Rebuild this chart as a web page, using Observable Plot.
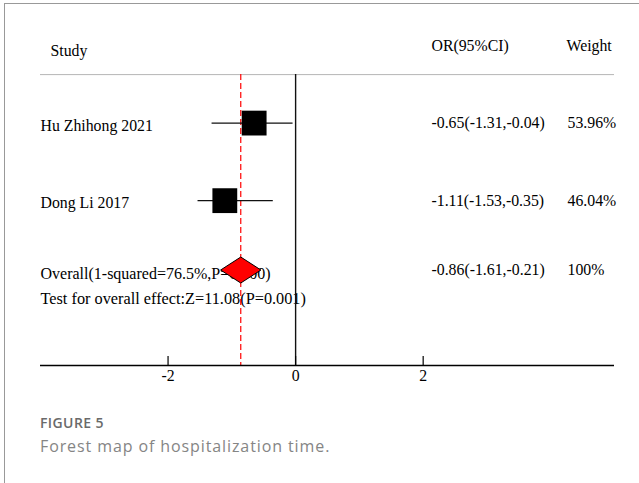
<!DOCTYPE html>
<html>
<head>
<meta charset="utf-8">
<script src="https://cdn.jsdelivr.net/npm/d3@7"></script>
<script src="https://cdn.jsdelivr.net/npm/@observablehq/plot@0.6"></script>
<style>
  html, body { margin: 0; padding: 0; background: #fff; }
  #page { position: relative; width: 639px; height: 483px; overflow: hidden; }
  #box { position: absolute; left: 4px; top: 3px; width: 700px; height: 600px;
         border-left: 1px solid #999; border-top: 1px solid #999; }
  #chart { position: absolute; left: 0; top: 0; }
  .fig-num { position: absolute; left: 40px; top: 416px; font-family: "Open Sans", sans-serif;
             font-weight: 600; font-size: 14px; line-height: 1; letter-spacing: 0.4px; color: #6a6a6a; }
  .fig-cap { position: absolute; left: 40px; top: 438px; font-family: "Open Sans", sans-serif;
             font-weight: 400; font-size: 16px; line-height: 1; letter-spacing: 0.9px; color: #858585; }
</style>
</head>
<body>
<div id="page">
  <div id="box"></div>
  <div id="chart"></div>
  <div class="fig-num">FIGURE 5</div>
  <div class="fig-cap">Forest map of hospitalization time.</div>
</div>
<script>
// Study-level results
const studies = ["Hu Zhihong 2021", "Dong Li 2017"];
const estimates = [-0.65, -1.11];
const lower = [-1.31, -1.53];
const upper = [-0.04, -0.35];
const weights = ["53.96%", "46.04%"];

// Pooled result
const overallEstimate = -0.86;
const overallLower = -1.61;
const overallUpper = -0.21;
const overallWeight = "100%";
const overallLabel = "Overall(1-squared=76.5%,P=0.000)";
const effectLabel = "Test for overall effect:Z=11.08(P=0.001)";

// Column headers and axis ticks
const headers = ["Study", "OR(95%CI)", "Weight"];
const xTicks = [-2, 0, 2];

// Row layout (vertical slots of the table)
const ROW = { header: 0, rule: 0.35, studies: [1, 2.04], overall: 2.97, effect: 3.32, axis: 4.25 };

const fmt = v => v.toFixed(2);
const ciText = (e, lo, hi) => `${fmt(e)}(${fmt(lo)},${fmt(hi)})`;

const rows = studies.map((s, i) => ({
  study: s, est: estimates[i], lo: lower[i], hi: upper[i],
  weight: weights[i], row: ROW.studies[i]
}));
const pooled = [{
  label: overallLabel, est: overallEstimate, lo: overallLower, hi: overallUpper,
  weight: overallWeight, row: ROW.overall
}];

// Wide diamond for the pooled estimate
const wideDiamond = {
  draw(context, size) {
    const r = Math.sqrt(size / Math.PI);
    const w = r * 1.55, h = r;
    context.moveTo(-w, 0);
    context.lineTo(0, -h);
    context.lineTo(w, 0);
    context.lineTo(0, h);
    context.closePath();
  }
};

const ORX = 391, WX = 527; // column offsets from the left edge of the table
const FS = 15.8;

const chart = Plot.plot({
  width: 639,
  height: 395,
  marginLeft: 40,
  marginRight: 25,
  marginTop: 0,
  marginBottom: 30,
  x: { domain: [-4, 5], axis: null },
  y: { domain: [0, ROW.axis], range: [48, 365], axis: null },
  style: { fontFamily: "'Liberation Serif', 'Times New Roman', serif", fontSize: FS + "px", color: "#000", background: "transparent" },
  marks: [
    // header rule
    Plot.ruleY([ROW.rule], { y: d => d, stroke: "#b5b5b5", strokeWidth: 1 }),
    // headers
    Plot.text([headers[0]], { text: d => d, y: () => ROW.header, frameAnchor: "left", dx: 10, dy: 2, textAnchor: "start", fontSize: FS }),
    Plot.text([headers[1]], { text: d => d, y: () => ROW.header, frameAnchor: "left", dx: ORX, dy: -3, textAnchor: "start", fontSize: FS }),
    Plot.text([headers[2]], { text: d => d, y: () => ROW.header, frameAnchor: "left", dx: WX - 1, dy: -3, textAnchor: "start", fontSize: FS }),
    // left column labels
    Plot.text(rows, { text: "study", y: "row", frameAnchor: "left", textAnchor: "start", dy: 2.5, fontSize: FS }),
    Plot.text(pooled, { text: "label", y: "row", frameAnchor: "left", textAnchor: "start", dy: 3.5, fontSize: 16 }),
    Plot.text([effectLabel], { text: d => d, y: () => ROW.effect, frameAnchor: "left", textAnchor: "start", dy: 3, fontSize: 16.3 }),
    // right columns
    Plot.text([...rows, ...pooled], { text: d => ciText(d.est, d.lo, d.hi), y: "row", frameAnchor: "left", dx: ORX, dy: 0, textAnchor: "start", fontSize: FS }),
    Plot.text([...rows, ...pooled], { text: "weight", y: "row", frameAnchor: "left", dx: WX, dy: 0, textAnchor: "start", fontSize: FS }),
    // line of no effect
    Plot.ruleX([0], { x: d => d, y1: () => ROW.rule, y2: () => ROW.axis, stroke: "#111", strokeWidth: 1.4 }),
    // pooled estimate reference line
    Plot.ruleX([overallEstimate], { x: d => d, y1: () => ROW.rule, y2: () => ROW.axis, stroke: "#ff0000", strokeWidth: 1.2, strokeDasharray: "6,3" }),
    // confidence intervals
    Plot.ruleY(rows, { y: "row", x1: "lo", x2: "hi", stroke: "#111", strokeWidth: 1.3 }),
    // study estimates
    Plot.dot(rows, { x: "est", y: "row", symbol: "square", r: 14, fill: "#000", stroke: "none" }),
    // pooled estimate
    Plot.dot(pooled, { x: "est", y: "row", symbol: wideDiamond, r: 13, fill: "#ff0000", stroke: "#000", strokeWidth: 1 }),
    // x axis
    Plot.ruleY([ROW.axis], { y: d => d, stroke: "#000", strokeWidth: 1.5 }),
    Plot.ruleX(xTicks, { x: d => d, y1: () => ROW.axis, y2: () => ROW.axis, insetTop: -9, stroke: "#000", strokeWidth: 1.2 }),
    Plot.axisX(xTicks, { anchor: "bottom", tickSize: 0, tickPadding: 4, tickFormat: d => String(d), label: null, fontSize: FS })
  ]
});

document.getElementById("chart").appendChild(chart);
</script>
</body>
</html>
